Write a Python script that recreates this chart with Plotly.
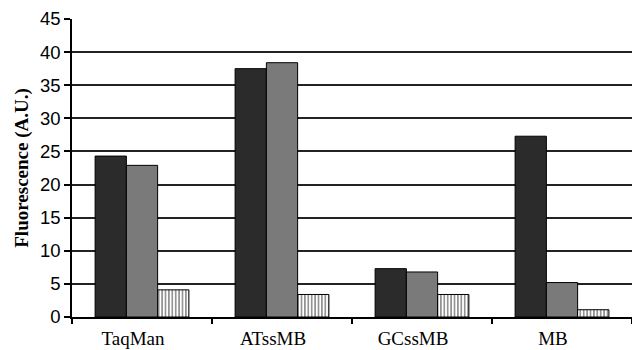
import plotly.graph_objects as go

categories = ["TaqMan", "ATssMB", "GCssMB", "MB"]
series_dark = [24.3, 37.5, 7.3, 27.3]
series_gray = [22.9, 38.4, 6.8, 5.2]
series_hatched = [4.1, 3.4, 3.4, 1.1]
y_ticks = [0, 5, 10, 15, 20, 25, 30, 35, 40, 45]

fig = go.Figure()
fig.add_trace(go.Bar(x=categories, y=series_dark, name="A",
                     marker=dict(color="#2b2b2b", line=dict(color="#000", width=1))))
fig.add_trace(go.Bar(x=categories, y=series_gray, name="B",
                     marker=dict(color="#7a7a7a", line=dict(color="#000", width=1))))
fig.add_trace(go.Bar(x=categories, y=series_hatched, name="C",
                     marker=dict(color="white", line=dict(color="#000", width=1),
                                 pattern=dict(shape="|", fgcolor="#000", bgcolor="white",
                                              size=3.4, solidity=0.42))))

fig.update_layout(
    width=632, height=350,
    margin=dict(l=72, r=0, t=19, b=33),
    paper_bgcolor="white", plot_bgcolor="white",
    barmode="group", bargap=0.33, bargroupgap=0,
    showlegend=False,
    xaxis=dict(
        automargin=False,
        showline=True, linecolor="#000", linewidth=1.5,
        ticks="outside", tickson="boundaries", ticklen=5, tickcolor="#000", tickwidth=1.5,
        tickfont=dict(family="Liberation Serif", size=19, color="#000"),
        ticklabelstandoff=3, ticklabelshift=-9,
        showgrid=False,
    ),
    yaxis=dict(
        automargin=False,
        range=[0, 45], tickvals=y_ticks,
        showline=True, linecolor="#000", linewidth=1.5,
        ticks="outside", ticklen=6, tickcolor="#000", tickwidth=1.5,
        tickfont=dict(family="Liberation Sans", size=18.5, color="#000"),
        showgrid=True, gridcolor="#222", gridwidth=1.5,
        zeroline=False,
        title=dict(text="<b>Fluorescence (A.U.)</b>", standoff=6,
                   font=dict(family="Liberation Serif", size=19, color="#000")),
    ),
)

fig.write_html("out.html")
